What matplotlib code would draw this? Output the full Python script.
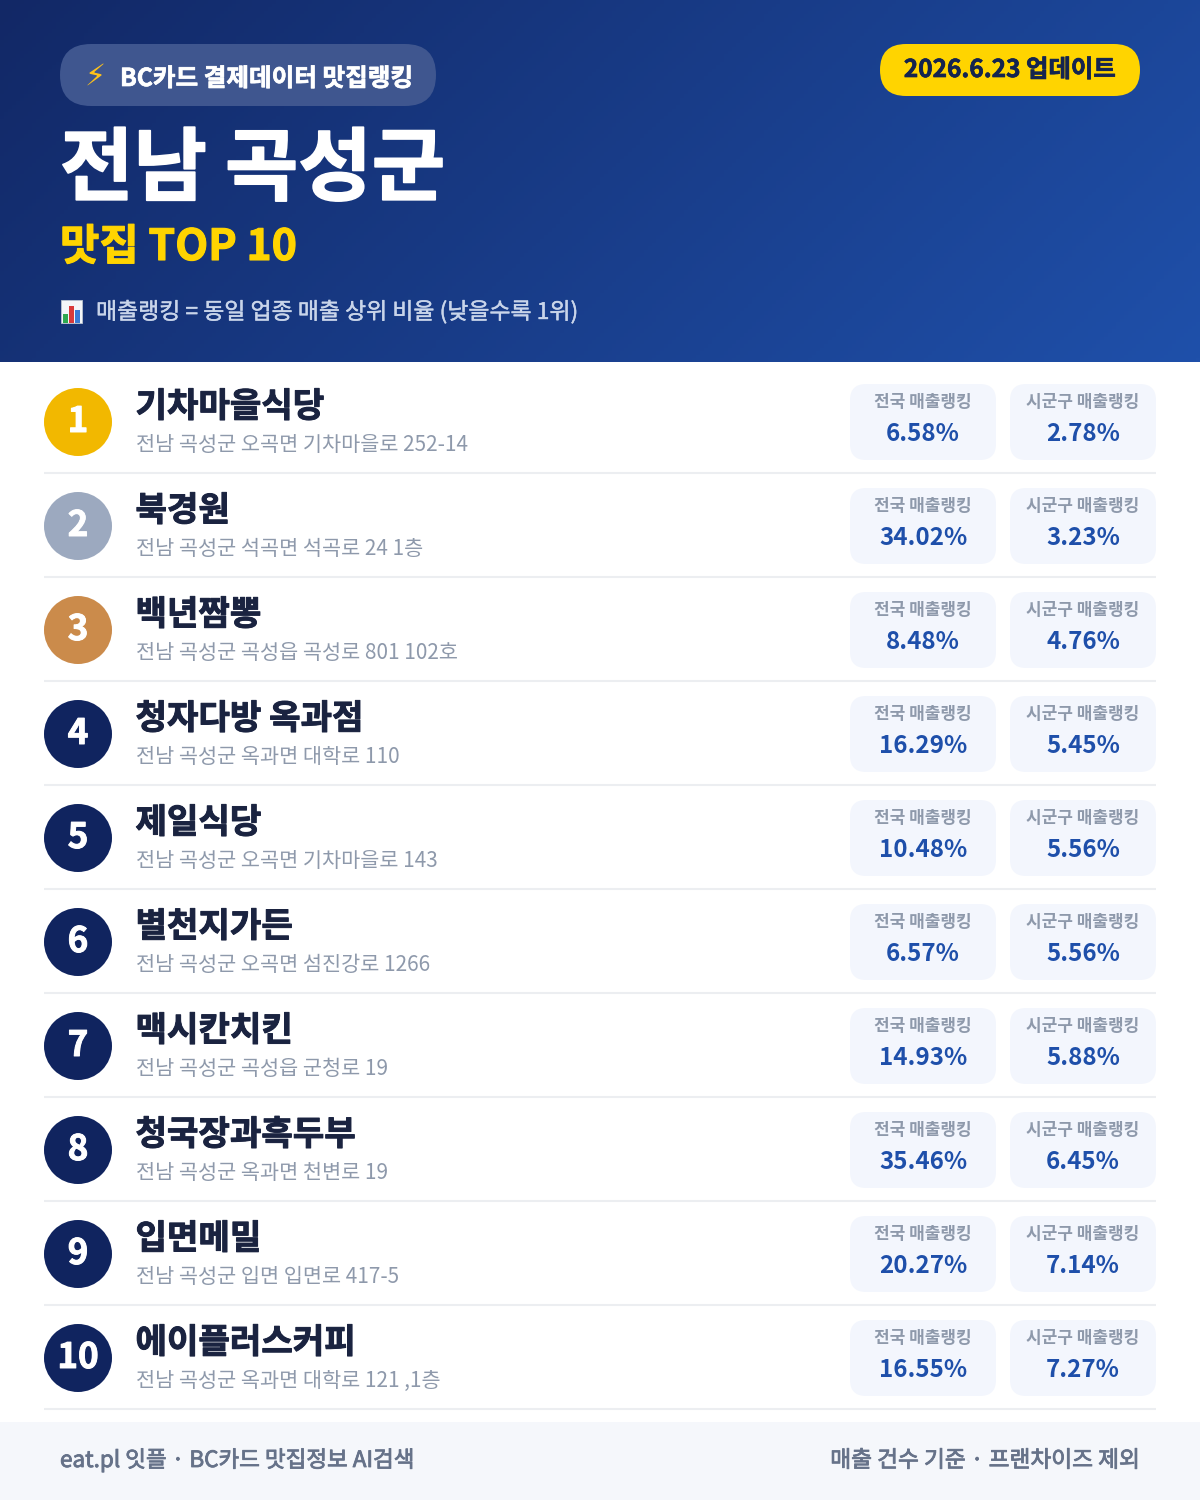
import numpy as np
import matplotlib
matplotlib.use("Agg")
import matplotlib.pyplot as plt
import matplotlib.patheffects as pe
from matplotlib.patches import Circle, FancyBboxPatch, Rectangle

plt.rcParams["font.family"] = ["Noto Sans CJK KR", "DejaVu Sans"]

names = ["기차마을식당", "북경원", "백년짬뽕", "청자다방 옥과점", "제일식당",
         "별천지가든", "맥시칸치킨", "청국장과흑두부", "입면메밀", "에이플러스커피"]
addresses = ["전남 곡성군 오곡면 기차마을로 252-14", "전남 곡성군 석곡면 석곡로 24 1층",
             "전남 곡성군 곡성읍 곡성로 801 102호", "전남 곡성군 옥과면 대학로 110",
             "전남 곡성군 오곡면 기차마을로 143", "전남 곡성군 오곡면 섬진강로 1266",
             "전남 곡성군 곡성읍 군청로 19", "전남 곡성군 옥과면 천변로 19",
             "전남 곡성군 입면 입면로 417-5", "전남 곡성군 옥과면 대학로 121 ,1층"]
national = [6.58, 34.02, 8.48, 16.29, 10.48, 6.57, 14.93, 35.46, 20.27, 16.55]
local = [2.78, 3.23, 4.76, 5.45, 5.56, 5.56, 5.88, 6.45, 7.14, 7.27]
medal_colors = ["#F2B800", "#9CA9BF", "#CB8B4B"]

NAVY = "#10245F"
BLUE = "#1E4FAA"
YELLOW = "#FFD400"


def px(size):
    # font size in picture pixels to points
    return size * 0.72


def thick(color, lw=0.6):
    # the fonts stop at Bold, the reference is a bit heavier
    return [pe.withStroke(linewidth=lw, foreground=color)]


def rounded(ax, x, y, w, h, r, color, **kw):
    ax.add_patch(FancyBboxPatch((x + r, y + r), w - 2 * r, h - 2 * r,
                                boxstyle=f"round,pad={r},rounding_size={r}",
                                fc=color, ec="none", **kw))


fig = plt.figure(figsize=(12, 15), dpi=100)
ax = fig.add_axes([0, 0, 1, 1])

# header gradient
xx, yy = np.meshgrid(np.linspace(0, 1, 300), np.linspace(0, 1, 100))
grad = (xx * 1200 + yy * 362) / (1200 + 362)
c0 = np.array(matplotlib.colors.to_rgb("#122866"))
c1 = np.array(matplotlib.colors.to_rgb("#1F50AA"))
img = c0 + (c1 - c0) * grad[..., None]
ax.imshow(img, extent=(0, 1200, 362, 0), aspect="auto", zorder=0)
ax.set_xlim(0, 1200)
ax.set_ylim(1500, 0)
ax.axis("off")

# header
rounded(ax, 60, 44, 376, 62, 31, "#3F568F", zorder=1)
ax.text(95, 76, "⚡", fontsize=px(30), color="#FFC21A", ha="center", va="center",
        family="DejaVu Sans", zorder=2)
ax.text(120, 86, "BC카드 결제데이터 맛집랭킹", fontsize=px(24.6), color="white",
        weight="bold", va="baseline", zorder=2, path_effects=thick("white", 0.5))
rounded(ax, 880, 44, 260, 52, 26, YELLOW, zorder=1)
ax.text(1010, 77, "2026.6.23 업데이트", fontsize=px(24.4), color="#14244F",
        weight="bold", ha="center", va="baseline", zorder=2, path_effects=thick("#14244F", 0.5))
ax.text(60, 194, "전남 곡성군", fontsize=px(79.8), color="white", weight="bold",
        va="baseline", zorder=2, path_effects=thick("white", 1.2))
ax.text(60, 260, "맛집 TOP 10", fontsize=px(42.8), color=YELLOW, weight="bold",
        va="baseline", zorder=2, path_effects=thick(YELLOW, 0.8))

# bar chart icon
ax.add_patch(Rectangle((61, 300), 21, 23, fc="#F4F6F8", ec="#B9C3CF", lw=0.6, zorder=2))
for bx, top, col in [(63, 314, "#2FA84F"), (69, 306, "#D93A3A"), (75, 310, "#3A7BD5")]:
    ax.add_patch(Rectangle((bx, top), 5, 323 - top, fc=col, ec="none", zorder=3))
ax.text(96, 319, "매출랭킹 = 동일 업종 매출 상위 비율 (낮을수록 1위)", fontsize=px(22.9),
        color="#C9D5EA", va="baseline", zorder=2, path_effects=thick("#C9D5EA", 0.3))

# rows
for i in range(len(names)):
    off = i * 104
    col = medal_colors[i] if i < 3 else NAVY
    ax.add_patch(Circle((78, 422 + off), 34, fc=col, ec="none", zorder=2))
    ax.text(78, 432 + off, str(i + 1), fontsize=px(35), color="white", weight="bold",
            ha="center", va="baseline", zorder=3, path_effects=thick("white", 0.7))
    ax.text(135.5, 417 + off, names[i], fontsize=px(34.2), color="#1A2340", weight="bold",
            va="baseline", zorder=3, path_effects=thick("#1A2340", 0.7))
    ax.text(136, 451 + off, addresses[i], fontsize=px(20.8), color="#8E99AB",
            va="baseline", zorder=3)
    for x0, lab, val in [(850, "전국 매출랭킹", national[i]), (1010, "시군구 매출랭킹", local[i])]:
        rounded(ax, x0, 384 + off, 146, 76, 16, "#F3F6FD", zorder=1)
        ax.text(x0 + 73, 407 + off, lab, fontsize=px(17), color="#8E99AB", weight="bold",
                ha="center", va="baseline", zorder=3)
        ax.text(x0 + 73, 441 + off, f"{val:.2f}%", fontsize=px(24.2), color=BLUE, weight="bold",
                ha="center", va="baseline", zorder=3)
    ax.plot([44, 1156], [473 + off, 473 + off], color="#ECEEF1", lw=1.5, zorder=1,
            solid_capstyle="butt")

# footer
ax.add_patch(Rectangle((0, 1422), 1200, 78, fc="#F5F7FB", ec="none", zorder=1))
ax.text(60, 1467, "eat.pl 잇플 · BC카드 맛집정보 AI검색", fontsize=px(22.5), color="#667289",
        va="baseline", zorder=2, path_effects=thick("#667289"))
ax.text(1140, 1467, "매출 건수 기준 · 프랜차이즈 제외", fontsize=px(22.7), color="#667289",
        ha="right", va="baseline", zorder=2, path_effects=thick("#667289"))

fig.savefig("out.png", dpi=100)
